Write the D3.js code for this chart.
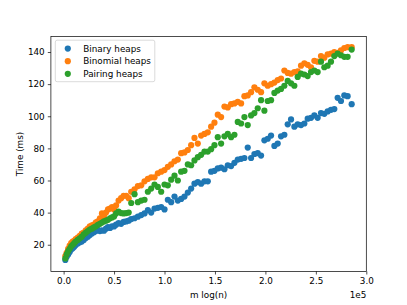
<!DOCTYPE html>
<html>
<head>
<meta charset="utf-8">
<script src="https://cdn.jsdelivr.net/npm/d3@7"></script>
<style>
  html, body { margin: 0; padding: 0; background: #fff; }
  svg text { font-family: "DejaVu Sans", sans-serif; }
</style>
</head>
<body>
<svg id="chart" width="407" height="305"></svg>
<script>
// Shared x values: m log(n)
const xValues = [
  1700, 3000, 4500, 6000, 7500, 9000, 10500, 12000, 14000, 16000, 18000, 20000, 22000, 24000, 26000, 28000,
  30000, 32000, 34000, 36000, 38000, 40000, 42000, 44000, 46000, 48000, 50000, 52000, 54500, 57000, 59500, 62000, 64500,
  67000, 70300, 73600, 76900, 80200, 83500, 86800, 90100, 93400, 96700, 100000, 103300, 106600, 109900, 113200, 116500,
  119800, 123100, 126400, 129700, 133000, 136300, 139600, 142900, 146200, 149500, 152800, 156100, 159400, 162700, 166000,
  169300, 172600, 175900, 179200, 182500, 185800, 189100, 192400, 195700, 199000, 202300, 205600, 208900, 212200, 215500,
  218800, 222100, 225400, 228700, 232000, 235300, 238600, 241900, 245200, 248500, 251800, 255100, 258400, 261700, 265000,
  268300, 271600, 274900, 278200, 281500, 285500
];
const binaryTimes = [
  10.5, 12.5, 14, 15.5, 17, 17.8, 18.8, 19.8, 20.8, 21.5, 22, 23, 24.2, 25, 26, 27,
  27.8, 28.5, 29.3, 28.5, 29, 28.7, 30, 31, 30.5, 31.5, 31.4, 32.5, 33.4, 33, 34.2, 34.5, 35,
  36, 36.5, 37.5, 38.5, 39.5, 41.5, 40, 42.5, 43, 43.5, 42, 48, 46.5, 50, 47.5, 48.5,
  50, 52.5, 55, 58, 59, 58, 59.5, 59.5, 65.5, 66, 67.5, 68, 67, 69.5, 69,
  71, 73, 73.5, 74, 80.5, 74, 76.5, 77, 75.5, 85, 86, 88, 81.5, 83, 87.5,
  88.5, 95, 98, 93.5, 95, 94.5, 95.5, 98.5, 99, 100.5, 99, 102, 101.5, 103, 104,
  104.5, 111.5, 109.5, 113, 112.5, 107.5
];
const binomialTimes = [
  13, 15, 17.5, 19.5, 21, 22, 22.5, 23.5, 24.5, 25.5, 27, 27.5, 29, 30, 31.5, 32,
  32.5, 34, 34.5, 36.5, 39.5, 38, 40, 42, 42.5, 43.5, 42, 44.5, 47.5, 49, 50.5, 50.5, 49,
  53, 54.5, 56.5, 57, 59.5, 61, 62, 62, 64.5, 65.5, 66.5, 68.5, 70, 72, 73, 77,
  77.5, 79, 82, 86.5, 83, 88, 89, 90, 93.5, 96, 101, 99.5, 106, 105.5, 107.5,
  108, 109, 108, 112.5, 113, 115, 118, 116.5, 115, 120.5, 119, 120, 121, 122.5, 123.5,
  128.5, 127, 126.5, 127.5, 128, 131.5, 133, 132, 130.5, 134.5, 134, 137.5, 136.5, 138.5, 139,
  140, 139.5, 141, 142.5, 143, 143
];
const pairingTimes = [
  11.5, 14, 16, 17.5, 19, 20, 21, 22, 23, 24, 25, 26.5, 27.5, 28.5, 29.5, 30,
  30.8, 31.5, 32.4, 33, 33.8, 34.5, 35, 35.5, 36.5, 37, 37.6, 39.5, 40.7, 39.7, 39.5, 39.7, 40,
  46, 51.5, 46.5, 47.5, 48, 53, 55, 57.5, 56, 53, 57.5, 57, 60.5, 63, 60, 65.5,
  66, 70, 69.5, 72.5, 74.5, 76, 78, 78, 79.5, 82, 87, 83, 87.5, 89, 87,
  88.5, 96.5, 95.5, 99.5, 94.5, 100.5, 102, 105, 110, 103.5, 109.5, 110, 114.5, 116, 117,
  119, 122, 120.5, 119, 124.5, 126.5, 126, 125, 127.5, 128.5, 127.5, 134, 130.5, 131.5, 134,
  137.5, 139, 138, 137, 137, 141.5
];
const seriesNames = ["Binary heaps", "Binomial heaps", "Pairing heaps"];
const seriesColors = ["#1f77b4", "#ff7f0e", "#2ca02c"];
const xTicks = [0, 50000, 100000, 150000, 200000, 250000, 300000];
const xTickLabels = ["0.0", "0.5", "1.0", "1.5", "2.0", "2.5", "3.0"];
const yTicks = [20, 40, 60, 80, 100, 120, 140];

const seriesValues = [binaryTimes, binomialTimes, pairingTimes];

const svg = d3.select("#chart");
const plotLeft = 50.9, plotRight = 366.3, plotTop = 36.6, plotBottom = 271.4;
const fontSize = 8.8;

const x = d3.scaleLinear().domain([-12600, 300000]).range([plotLeft, plotRight]);
const y = d3.scaleLinear().domain([3.4, 149.6]).range([plotBottom, plotTop]);

// points
seriesValues.forEach((vals, si) => {
  svg.append("g")
    .selectAll("circle")
    .data(vals.map((v, i) => [xValues[i], v]))
    .join("circle")
    .attr("cx", d => x(d[0]))
    .attr("cy", d => y(d[1]))
    .attr("r", 3.1)
    .attr("fill", seriesColors[si]);
});

// axes
const xAxis = d3.axisBottom(x).tickValues(xTicks)
  .tickFormat((d, i) => xTickLabels[i]).tickSize(3.1).tickPadding(3.1).tickSizeOuter(0);
const yAxis = d3.axisLeft(y).tickValues(yTicks)
  .tickFormat(d3.format("d")).tickSize(3.1).tickPadding(3.1).tickSizeOuter(0);

const gx = svg.append("g").attr("transform", `translate(0,${plotBottom})`).call(xAxis);
const gy = svg.append("g").attr("transform", `translate(${plotLeft},0)`).call(yAxis);
[gx, gy].forEach(g => {
  g.select(".domain").remove();
  g.selectAll("line").attr("stroke", "#000").attr("stroke-width", 0.7);
  g.selectAll("text").attr("font-size", fontSize).attr("fill", "#000")
    .attr("font-family", "DejaVu Sans, sans-serif");
});

// frame
svg.append("rect")
  .attr("x", plotLeft).attr("y", plotTop)
  .attr("width", plotRight - plotLeft).attr("height", plotBottom - plotTop)
  .attr("fill", "none").attr("stroke", "#000").attr("stroke-width", 0.7);

// labels
svg.append("text").attr("x", (plotLeft + plotRight) / 2).attr("y", 294.5)
  .attr("text-anchor", "middle").attr("dominant-baseline", "central")
  .attr("font-size", fontSize).text("m log(n)");
svg.append("text").attr("x", plotRight).attr("y", 294.5)
  .attr("text-anchor", "end").attr("dominant-baseline", "central")
  .attr("font-size", fontSize).text("1e5");
svg.append("text")
  .attr("transform", `translate(20,${(plotTop + plotBottom) / 2}) rotate(-90)`)
  .attr("text-anchor", "middle").attr("dominant-baseline", "central")
  .attr("font-size", fontSize).text("Time (ms)");

// legend
const lg = svg.append("g");
lg.append("rect").attr("x", 55.3).attr("y", 40.2).attr("width", 99.5).attr("height", 41.5)
  .attr("rx", 1.8).attr("fill", "#fff").attr("fill-opacity", 0.8)
  .attr("stroke", "#cccccc").attr("stroke-width", 0.7);
seriesNames.forEach((name, i) => {
  const cy = 48.6 + i * 12.6;
  lg.append("circle").attr("cx", 67.8).attr("cy", cy).attr("r", 3.1).attr("fill", seriesColors[i]);
  lg.append("text").attr("x", 83.3).attr("y", cy).attr("dominant-baseline", "central")
    .attr("font-size", fontSize).text(name);
});
</script>
</body>
</html>
